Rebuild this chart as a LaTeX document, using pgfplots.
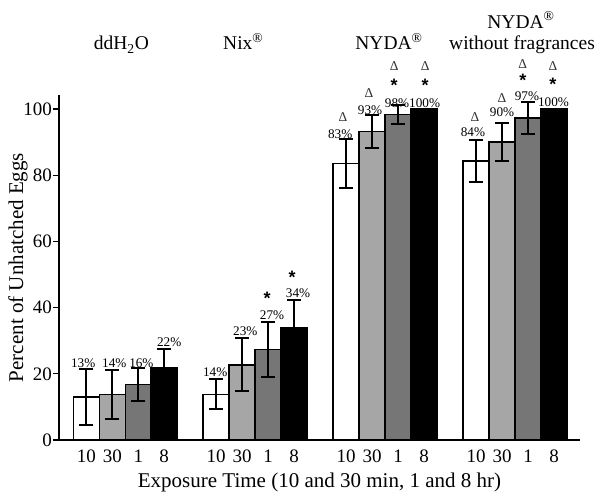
\documentclass[border=0pt]{standalone}
\usepackage{pgfplots}
\pgfplotsset{compat=1.18}
\usepackage{fontspec}
\setmainfont{Liberation Serif}
\newfontfamily\astfont{Liberation Sans}
\definecolor{lg}{RGB}{166,166,166}
\definecolor{dg}{RGB}{118,118,118}
\newcommand{\pct}{\fontsize{13.2}{15}\selectfont}
\newcommand{\ttl}{\fontsize{19.5}{22}\selectfont}
\newcommand{\sigast}{\astfont\bfseries\fontsize{18}{19}\selectfont *}
\newcommand{\dlt}{\fontsize{13.5}{15}\selectfont Δ}
\begin{document}
\begin{tikzpicture}
\path[use as bounding box] (-59pt,-59pt) rectangle (541pt,440pt);
\begin{axis}[
  at={(0,0)}, anchor=south west,
  scale only axis, width=521pt, height=345pt,
  xmin=-1.05, xmax=19.0, ymin=0, ymax=104.2,
  axis lines*=left,
  axis line style={line width=1.2pt, black},
  ytick={0,20,...,100},
  xtick={0,1,2,3,5,6,7,8,10,11,12,13,15,16,17,18},
  xticklabels={10,30,1,8,10,30,1,8,10,30,1,8,10,30,1,8},
  x tick style={draw=none},
  y tick style={line width=1.2pt, black},
  tick align=outside, major tick length=6pt,
  /pgf/number format/assume math mode=true,
  tick label style={font=\fontsize{19}{21}\selectfont},
  yticklabel style={inner sep=1pt},
  every axis y label/.style={at={(axis description cs:0,0.5)}, xshift=-41pt, rotate=90, anchor=center},
  every axis x label/.style={at={(axis description cs:0.5,0)}, yshift=-42pt, anchor=center},
  label style={font=\fontsize{21}{24}\selectfont},
  ylabel={Percent of Unhatched Eggs},
  xlabel={Exposure Time (10 and 30 min, 1 and 8 hr)},
  clip=false,
  ybar, bar width=1,
  every axis plot/.append style={bar shift=0pt, draw=black, line width=1.5pt},
  error bars/y dir=both, error bars/y explicit,
  error bars/error mark=-,
  error bars/error bar style={line width=2pt, black},
  error bars/error mark options={rotate=90, line width=2pt, mark size=7pt, black},
]
\addplot[fill=white] coordinates {(0,13.0) +- (0,8.4) (5,13.8) +- (0,4.5) (10,83.5) +- (0,7.3) (15,84.3) +- (0,6.3)};
\addplot[fill=lg] coordinates {(1,13.7) +- (0,7.5) (6,22.7) +- (0,8.0) (11,93.2) +- (0,4.9) (16,90.0) +- (0,5.6)};
\addplot[fill=dg] coordinates {(2,16.8) +- (0,5.0) (7,27.3) +- (0,8.2) (12,98.3) +- (0,2.8) (17,97.2) +- (0,4.9)};
\addplot[fill=black] coordinates {(3,21.7) +- (0,5.7) (8,34.0) +- (0,8.2) (13,100) +- (0,0) (18,100) +- (0,0)};
% percent labels
\tikzset{pl/.style={font=\pct, inner sep=0.5pt}, dl/.style={text=black!80, inner sep=0.5pt}}
\node[pl] at (axis cs:-0.12,23.3) {13\%};
\node[pl] at (axis cs:1.08,23.3) {14\%};
\node[pl] at (axis cs:2.12,23.3) {16\%};
\node[pl] at (axis cs:3.19,29.6) {22\%};
\node[pl] at (axis cs:4.96,20.5) {14\%};
\node[pl] at (axis cs:6.12,32.9) {23\%};
\node[pl] at (axis cs:7.15,37.8) {27\%};
\node[pl] at (axis cs:8.15,44.4) {34\%};
\node[pl] at (axis cs:9.77,92.4) {83\%};
\node[pl] at (axis cs:10.92,99.7) {93\%};
\node[pl] at (axis cs:11.96,101.8) {98\%};
\node[pl] at (axis cs:13.02,101.8) {100\%};
\node[pl] at (axis cs:14.88,93.1) {84\%};
\node[pl] at (axis cs:16.0,99.1) {90\%};
\node[pl] at (axis cs:16.96,103.8) {97\%};
\node[pl] at (axis cs:17.98,102.1) {100\%};
% asterisks
\node[inner sep=0pt, yshift=-3pt] at (axis cs:6.96,43.6) {\sigast};
\node[inner sep=0pt, yshift=-3pt] at (axis cs:7.92,50.0) {\sigast};
\node[inner sep=0pt, yshift=-3pt] at (axis cs:11.85,108.1) {\sigast};
\node[inner sep=0pt, yshift=-3pt] at (axis cs:13.04,108.1) {\sigast};
\node[inner sep=0pt, yshift=-3pt] at (axis cs:16.8,109.5) {\sigast};
\node[inner sep=0pt, yshift=-3pt] at (axis cs:17.96,108.4) {\sigast};
% deltas
\node[dl] at (axis cs:9.88,97.6) {\dlt};
\node[dl] at (axis cs:10.88,104.8) {\dlt};
\node[dl] at (axis cs:11.85,112.9) {\dlt};
\node[dl] at (axis cs:13.04,112.9) {\dlt};
\node[dl] at (axis cs:14.96,97.6) {\dlt};
\node[dl] at (axis cs:16.0,103.3) {\dlt};
\node[dl] at (axis cs:16.8,113.6) {\dlt};
\node[dl] at (axis cs:17.96,112.9) {\dlt};
% group titles
\node[font=\ttl, anchor=base] at (axis cs:1.35,117.8) {ddH\textsubscript{2}O};
\node[font=\ttl, anchor=base] at (axis cs:6.04,117.8) {Nix\textsuperscript{\textregistered}};
\node[font=\ttl, anchor=base] at (axis cs:11.65,117.8) {NYDA\textsuperscript{\textregistered}};
\node[font=\ttl, anchor=base] at (axis cs:16.73,124.4) {NYDA\textsuperscript{\textregistered}};
\node[font=\ttl, anchor=base] at (axis cs:16.77,117.8) {without fragrances};
\end{axis}
\end{tikzpicture}
\end{document}
